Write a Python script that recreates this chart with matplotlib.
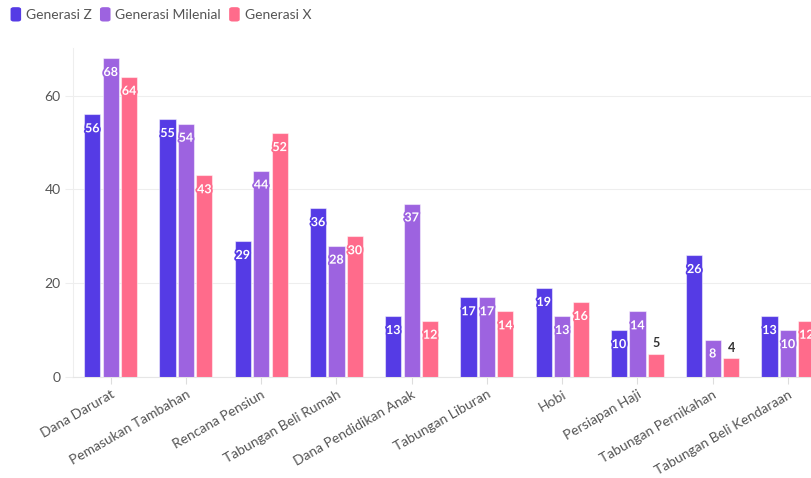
import matplotlib.pyplot as plt
import matplotlib.patheffects as pe
from matplotlib.patches import FancyBboxPatch
import numpy as np

categories = ["Dana Darurat", "Pemasukan Tambahan", "Rencana Pensiun", "Tabungan Beli Rumah",
              "Dana Pendidikan Anak", "Tabungan Liburan", "Hobi", "Persiapan Haji",
              "Tabungan Pernikahan", "Tabungan Beli Kendaraan"]
gen_z = [56, 55, 29, 36, 13, 17, 19, 10, 26, 13]
gen_milenial = [68, 54, 44, 28, 37, 17, 13, 14, 8, 10]
gen_x = [64, 43, 52, 30, 12, 14, 16, 5, 4, 12]
series_names = ["Generasi Z", "Generasi Milenial", "Generasi X"]
colors = ["#553be5", "#9d63e0", "#ff6b8b"]

plt.rcParams['font.family'] = ['Lato', 'DejaVu Sans']

fig = plt.figure(figsize=(8.12, 4.78), dpi=100)
ax = fig.add_axes([0.09, 0.211, 0.91, 0.689])

x = np.arange(len(categories))
width = 0.215
offsets = [-0.245, 0, 0.245]
all_series = [gen_z, gen_milenial, gen_x]

for vals, off, col in zip(all_series, offsets, colors):
    ax.bar(x + off, vals, width, color=col, edgecolor=(1, 1, 1, 0.5), linewidth=0.8, zorder=3)
    for xi, v in zip(x, vals):
        if v >= 8:
            ax.annotate(str(v), (xi + off, v), xytext=(0, -10), textcoords="offset points",
                        ha="center", va="center", fontsize=9, fontweight="bold", color="white",
                        path_effects=[pe.withStroke(linewidth=2.5, foreground=col)], zorder=4)
        else:
            ax.annotate(str(v), (xi + off, v), xytext=(0, 7.5), textcoords="offset points",
                        ha="center", va="center", fontsize=9, fontweight="bold", color="#333333",
                        zorder=4)

ax.set_xlim(-0.5, 9.32)
ax.set_ylim(0, 70.2)
ax.set_yticks([0, 20, 40, 60])
ax.set_xticks(x)
ax.set_xticklabels(categories, rotation=30, ha="right", rotation_mode="anchor")
ax.tick_params(axis="x", colors="#dddddd", length=5, labelcolor="#555555", labelsize=10, pad=3)
ax.tick_params(axis="y", colors="#eeeeee", length=6, labelcolor="#555555", labelsize=10, pad=3)
ax.grid(axis="y", color="#eeeeee", linewidth=0.8, zorder=0)
ax.grid(axis="x", visible=False)
for s in ["top", "right"]:
    ax.spines[s].set_visible(False)
ax.spines["left"].set_color("#eeeeee")
ax.spines["bottom"].set_color("#e6e6e6")

# legend at the top left
lx = 0.013
for name, col in zip(series_names, colors):
    fig.patches.append(FancyBboxPatch((lx, 0.955), 0.013, 0.03, boxstyle="round,pad=0,rounding_size=0.004",
                                      transform=fig.transFigure, facecolor=col, edgecolor="none"))
    t = fig.text(lx + 0.019, 0.969, name, fontsize=10, color="#555555", va="center")
    fig.canvas.draw()
    bb = t.get_window_extent()
    lx = bb.x1 / fig.bbox.width + 0.01

fig.savefig("out.png", dpi=100)
